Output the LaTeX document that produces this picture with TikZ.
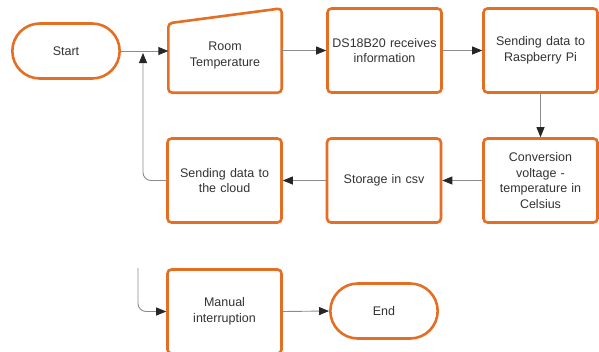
\documentclass[tikz,border=0pt]{standalone}
\usepackage{fontspec}
\setmainfont{Liberation Sans}
\usetikzlibrary{arrows.meta,shapes.misc}
\definecolor{orng}{RGB}{228,110,36}
\definecolor{txt}{RGB}{51,51,51}
\definecolor{conn}{RGB}{140,140,140}
\tikzset{
  x=1pt,y=-1pt,
  every node/.style={font=\fontsize{12.5}{15.5}\selectfont, text=txt, align=center},
  procbox/.style={draw=orng, line width=2.6pt, rounded corners=4pt, fill=white,
    minimum width=114pt, minimum height=84pt, inner sep=2pt, text width=110pt},
  termbox/.style={draw=orng, line width=2.6pt, rounded rectangle, fill=white,
    minimum width=114pt, minimum height=55pt},
  ghost/.style={minimum width=113pt, minimum height=84pt, inner sep=0pt},
  conn/.style={draw=conn, line width=0.9pt, -{Triangle[length=10pt,width=8pt,fill=black!85,color=black!85]}},
  connline/.style={draw=conn, line width=0.9pt}
}
\begin{document}
\begin{tikzpicture}
\useasboundingbox (0,0) rectangle (599,351);
\clip (0,0) rectangle (599,351);
\node[termbox] (start) at (66,51) {Start};
\node[ghost] (room) at (225,50.5) {};
\draw[orng, line width=2.6pt, rounded corners=4pt, fill=white]
  (room.south west) -- ([yshift=-15pt]room.north west) -- (room.north east) -- (room.south east) -- cycle;
\node (roomtext) at (225,55.5) {Room\\Temperature};
\node[procbox] (ds) at (384.5,50.5) {DS18B20 receives\\information};
\node[procbox] (pi) at (540.5,50.5) {Sending data to\\Raspberry Pi};
\node[procbox] (conv) at (540.5,180.5) {Conversion\\voltage -\\temperature in\\Celsius};
\node[procbox] (csv) at (384,180.5) {Storage in csv};
\node[procbox] (cloud) at (224.5,180.5) {Sending data to\\the cloud};
\node[procbox] (manual) at (224.5,311.5) {Manual\\interruption};
\node[termbox] (end) at (384,311) {End};
\coordinate (fb) at (143,53);
\coordinate (intr) at (138,268);
\draw[conn] (start.east) -- (room.west |- start.east);
\draw[conn, rounded corners=8pt] (cloud.west) -| (fb);
\draw[conn] (room.east) -- (ds.west);
\draw[conn] (ds.east) -- (pi.west);
\draw[conn] (pi.south) -- (conv.north);
\draw[conn] (conv.west) -- (csv.east);
\draw[conn] (csv.west) -- (cloud.east);
\draw[conn, rounded corners=8pt] (intr) |- (manual.west);
\draw[conn] (manual.east) -- (end.west);
\end{tikzpicture}
\end{document}
